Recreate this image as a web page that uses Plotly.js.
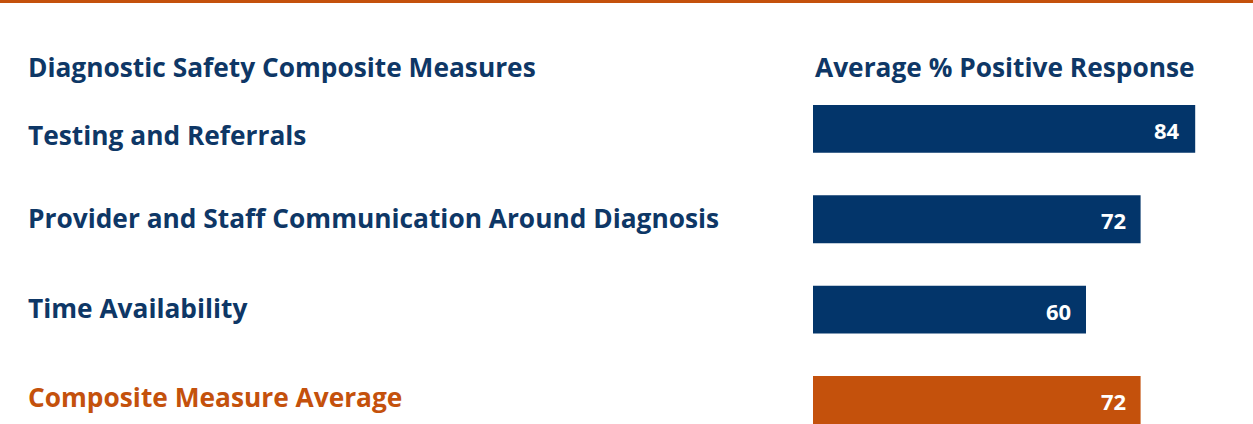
<!DOCTYPE html>
<html>
<head>
<meta charset="utf-8">
<script src="https://cdn.plot.ly/plotly-3.0.1.min.js"></script>
<style>html,body{margin:0;padding:0;background:#fff;}#chart{width:1253px;height:424px;}</style>
</head>
<body>
<div id="chart"></div>
<script>
const categories = ["Testing and Referrals", "Provider and Staff Communication Around Diagnosis", "Time Availability", "Composite Measure Average"];
const values = [84, 72, 60, 72];
const barColors = ["#03356A", "#03356A", "#03356A", "#C4510C"];
const labelColors = ["#0E3766", "#0E3766", "#0E3766", "#C4510C"];
const leftHeader = "Diagnostic Safety Composite Measures";
const rightHeader = "Average % Positive Response";

const W = 1253, H = 424;
const FONT = "'Open Sans', sans-serif";
const idx = categories.map((c, i) => i);

const trace = {
  type: "bar",
  orientation: "h",
  x: values,
  y: idx,
  marker: { color: barColors, line: { width: 0 } },
  width: 0.53,
  hoverinfo: "none",
  showlegend: false
};

const annotations = [];
const labelShift = [-6, 1, 2, 3];
categories.forEach((c, i) => {
  annotations.push({
    xref: "paper", yref: "y", x: 26 / W, y: i, xanchor: "left", yanchor: "middle",
    text: "<b>" + c + "</b>", showarrow: false, yshift: labelShift[i],
    font: { family: FONT, size: 26.3, color: labelColors[i] }
  });
  annotations.push({
    xref: "x", yref: "y", x: values[i], y: i, xanchor: "right", yanchor: "middle",
    text: "<b>" + values[i] + "</b>", showarrow: false, xshift: -13, yshift: -1,
    font: { family: FONT, size: 22, color: "#ffffff" }
  });
});
annotations.push({
  xref: "paper", yref: "paper", x: 26 / W, y: 1 - 67 / H, xanchor: "left", yanchor: "middle",
  text: "<b>" + leftHeader + "</b>", showarrow: false,
  font: { family: FONT, size: 26.3, color: "#0E3766" }
});
annotations.push({
  xref: "x", yref: "paper", x: 0, y: 1 - 67 / H, xanchor: "left", yanchor: "middle",
  text: "<b>" + rightHeader + "</b>", showarrow: false, xshift: 0,
  font: { family: FONT, size: 26.3, color: "#0E3766" }
});

const pxPerUnit = 4.55;
const layout = {
  width: W, height: H,
  margin: { l: 0, r: 0, t: 0, b: 0, pad: 0 },
  paper_bgcolor: "#ffffff", plot_bgcolor: "#ffffff",
  xaxis: { domain: [813 / W, 1], range: [0, (W - 813) / pxPerUnit], visible: false, fixedrange: true },
  yaxis: { range: [3 + (H - 400) / 90.5, -129 / 90.5], visible: false, fixedrange: true },
  shapes: [{ type: "rect", xref: "paper", yref: "paper", x0: 0, x1: 1, y0: 1 - 3 / H, y1: 1, fillcolor: "#C4510C", line: { width: 0 } }],
  annotations: annotations
};

Plotly.newPlot("chart", [trace], layout, { displayModeBar: false, staticPlot: true });
</script>
</body>
</html>
